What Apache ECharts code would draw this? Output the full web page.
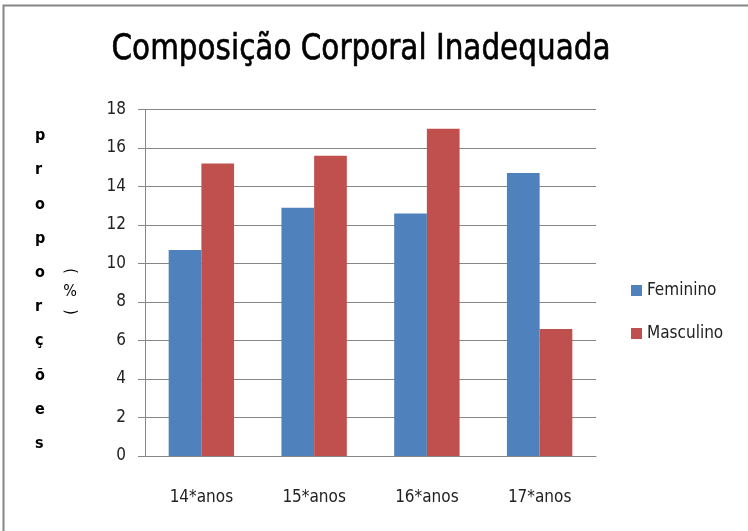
<!DOCTYPE html>
<html>
<head>
    <meta charset="utf-8">
    <title>Composição Corporal Inadequada</title>
    <style>
        body { margin: 0; background: #fff; }
    </style>
</head>
<body>
<div id="main" style="width: 748px;height:531px;"></div>

<script src="https://cdn.jsdelivr.net/npm/echarts@6/dist/echarts.min.js"></script>
<script>
    // dados
    var categorias = ['14*anos', '15*anos', '16*anos', '17*anos'];
    var feminino = [10.7, 12.9, 12.6, 14.7];
    var masculino = [15.2, 15.6, 17.0, 6.6];
    var ticksY = [0, 18, 2]; // min, max, intervalo

    var fonte = '"Liberation Sans Narrow", "DejaVu Sans Condensed", sans-serif';
    var cinza = '#868686';

    var myChart = echarts.init(document.getElementById('main'));

    myChart.setOption({
        animation: false,
        textStyle: { fontFamily: fonte },
        legend: {
            orient: 'vertical',
            left: 626,
            top: 277,
            itemWidth: 11,
            itemHeight: 11,
            itemGap: 26,
            icon: 'rect',
            textStyle: { fontFamily: fonte, fontSize: 17, color: '#222' },
            data: ['Feminino', 'Masculino']
        },
        grid: {
            left: 145,
            top: 109.5,
            right: 152,
            bottom: 75
        },
        xAxis: {
            type: 'category',
            data: categorias,
            axisLine: { lineStyle: { color: cinza } },
            axisTick: { length: 7, lineStyle: { color: cinza } },
            axisLabel: { margin: 33, fontSize: 17, color: '#222', fontFamily: fonte }
        },
        yAxis: {
            type: 'value',
            min: ticksY[0],
            max: ticksY[1],
            interval: ticksY[2],
            axisLine: { show: true, lineStyle: { color: cinza } },
            axisTick: { show: true, length: 7, lineStyle: { color: cinza } },
            axisLabel: { margin: 19, fontSize: 17, color: '#222', fontFamily: fonte },
            splitLine: { lineStyle: { color: cinza, width: 1 } }
        },
        graphic: [
            {
                type: 'rect',
                shape: { x: 3.5, y: 5.5, width: 760, height: 540 },
                style: { fill: 'none', stroke: cinza, lineWidth: 2 },
                silent: true
            },
            // titulo (fonte condensada como no original)
            {
                type: 'text',
                x: 361, y: 50, scaleX: 0.91,
                style: {
                    text: 'Composição Corporal Inadequada',
                    font: '36px ' + fonte,
                    fill: '#000',
                    stroke: '#000',
                    lineWidth: 0.6,
                    align: 'center',
                    verticalAlign: 'middle'
                }
            },
            {
                type: 'text',
                left: 35,
                top: 119,
                style: {
                    text: 'p\nr\no\np\no\nr\nç\nõ\ne\ns',
                    font: 'bold 16px ' + fonte,
                    lineHeight: 34.2,
                    fill: '#000',
                    align: 'center'
                }
            },
            {
                type: 'text',
                x: 70, y: 271, rotation: -Math.PI / 2,
                style: { text: '(', font: '16px ' + fonte, fill: '#000', align: 'center', verticalAlign: 'middle' }
            },
            {
                type: 'text',
                x: 70, y: 292,
                style: { text: '%', font: '16px ' + fonte, fill: '#000', align: 'center', verticalAlign: 'middle' }
            },
            {
                type: 'text',
                x: 70, y: 312, rotation: -Math.PI / 2,
                style: { text: ')', font: '16px ' + fonte, fill: '#000', align: 'center', verticalAlign: 'middle' }
            }
        ],
        series: [
            {
                name: 'Feminino',
                type: 'bar',
                data: feminino,
                barGap: '0%',
                barCategoryGap: '42%',
                itemStyle: { color: '#4F81BD' }
            },
            {
                name: 'Masculino',
                type: 'bar',
                data: masculino,
                itemStyle: { color: '#C0504D' }
            }
        ]
    });
</script>
</body>
</html>
